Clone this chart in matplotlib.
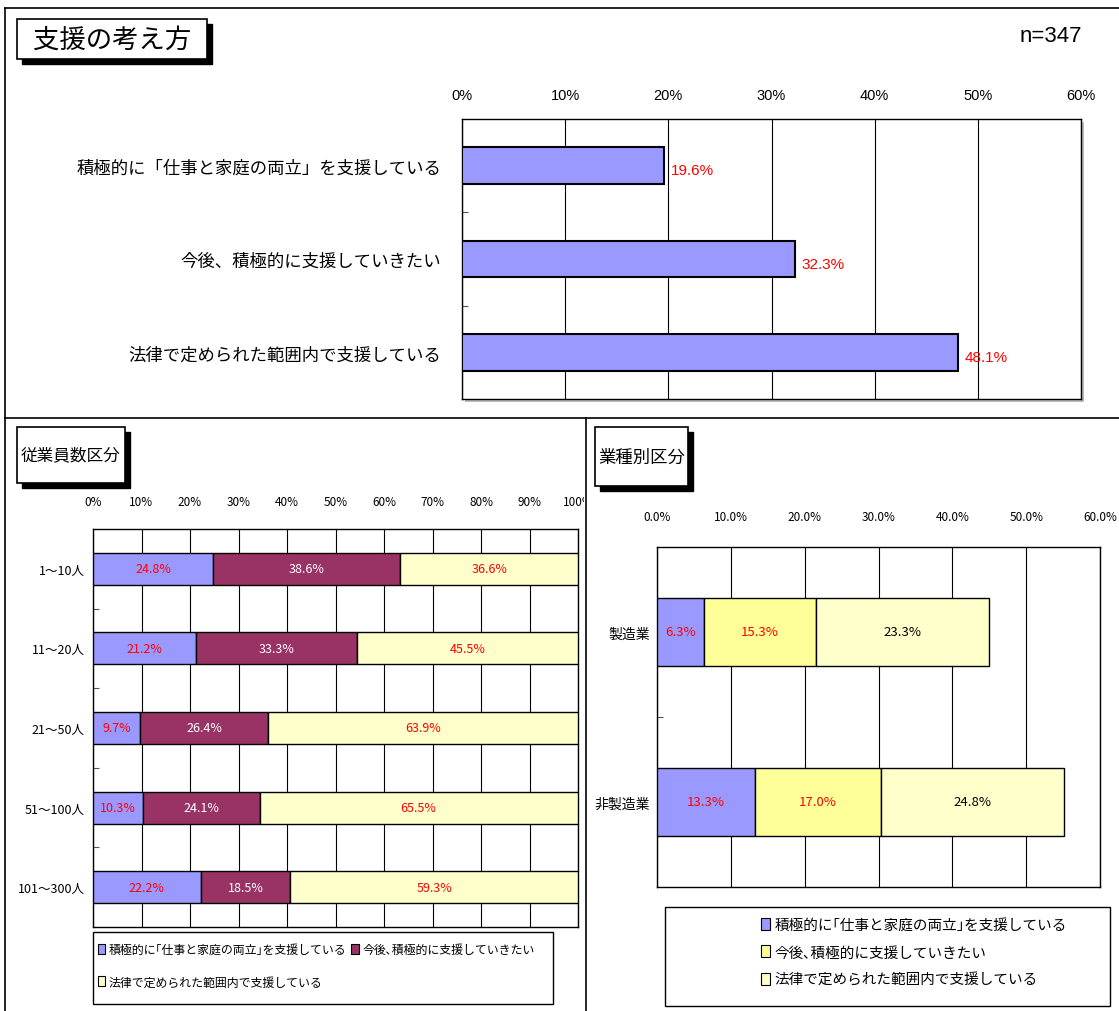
import numpy as np
import matplotlib
matplotlib.use('Agg')
import matplotlib.pyplot as plt
from matplotlib.patches import Rectangle, Patch
from matplotlib.lines import Line2D
from matplotlib.transforms import Bbox

plt.rcParams['font.family'] = ['Noto Sans CJK JP', 'DejaVu Sans']

W, H = 1119, 1012

# top panel
top_cats = ['積極的に「仕事と家庭の両立」を支援している', '今後、積極的に支援していきたい', '法律で定められた範囲内で支援している']
top_vals = [19.6, 32.3, 48.1]

# by employee count
emp_cats = ['1～10人', '11～20人', '21～50人', '51～100人', '101～300人']
emp_a = [24.8, 21.2, 9.7, 10.3, 22.2]
emp_b = [38.6, 33.3, 26.4, 24.1, 18.5]
emp_c = [36.6, 45.5, 63.9, 65.5, 59.3]

# by industry
ind_cats = ['製造業', '非製造業']
ind_a = [6.3, 13.3]
ind_b = [15.3, 17.0]
ind_c = [23.3, 24.8]

series_names = ['積極的に｢仕事と家庭の両立｣を支援している', '今後､積極的に支援していきたい', '法律で定められた範囲内で支援している']

blue = '#9999FF'
plum = '#993366'
ltyel = '#FFFFCC'
yel = '#FFFF99'


def fx(x):
  return x / W


def fy(y):
  return 1 - y / H


def px_axes(l, t, r, b):
  return fig.add_axes([fx(l), fy(b), (r - l) / W, (b - t) / H])


def title_box(l, t, r, b, text, size, sh=5):
  fig.add_artist(Rectangle((fx(l + sh), fy(b + sh)), (r - l) / W, (b - t) / H, transform=fig.transFigure,
                           facecolor='black', edgecolor='black'))
  fig.add_artist(Rectangle((fx(l), fy(b)), (r - l) / W, (b - t) / H, transform=fig.transFigure,
                           facecolor='white', edgecolor='black', lw=1.2))
  fig.text(fx((l + r) / 2), fy((t + b) / 2), text, ha='center', va='center', fontsize=size)


def style_axes(ax, ncat, xmax, step, fmt, tsize, tpad, ysize, ypad):
  ax.set_xlim(0, xmax)
  ax.set_ylim(ncat - 0.5, -0.5)
  ax.xaxis.tick_top()
  ticks = np.arange(0, xmax + step / 2, step)
  ax.set_xticks(ticks)
  ax.set_xticklabels([fmt % t for t in ticks], fontsize=tsize)
  ax.tick_params(axis='x', length=0, pad=tpad)
  ax.set_yticks(range(ncat))
  ax.set_yticks(np.arange(0.5, ncat - 1, 1), minor=True)
  ax.tick_params(axis='y', which='major', length=0, pad=ypad, labelsize=ysize)
  ax.tick_params(axis='y', which='minor', length=4, direction='in', width=0.8, color='#555555')
  ax.grid(axis='x', color='black', lw=0.8)
  ax.set_axisbelow(True)
  for s in ax.spines.values():
    s.set_color('black')
    s.set_linewidth(1.0)


fig = plt.figure(figsize=(W / 100, H / 100), dpi=100)

# frame lines
for (x0, y0, x1, y1) in [(5, 9, W, 9), (5, 9, 5, H), (5, 419, W, 419), (586, 419, 586, H)]:
  fig.add_artist(Line2D([fx(x0), fx(x1)], [fy(y0), fy(y1)], transform=fig.transFigure, color='black', lw=1.2))

# ---------- top panel ----------
title_box(17, 20, 207, 60, '支援の考え方', 19)
fig.text(fx(1082), fy(37), 'n=347', ha='right', va='center', fontsize=16, family='Liberation Sans')

ax1 = px_axes(462, 120, 1081, 400)
style_axes(ax1, 3, 60, 10, '%d%%', 10.5, 12, 12.5, 15)
for lbl in ax1.get_xticklabels():
  lbl.set_family(['Liberation Sans'])
# subtle plot-area shadow
fig.add_artist(Rectangle((fx(465), fy(403)), (1081 - 462) / W, (400 - 120) / H, transform=fig.transFigure,
                         facecolor='#BBBBBB', edgecolor='none', zorder=0))
ax1.set_facecolor('white')
y = np.arange(len(top_cats))
ax1.barh(y, top_vals, height=0.39, color=blue, edgecolor='black', lw=1.5, zorder=3)
ax1.set_yticklabels(top_cats)
for yi, v in zip(y, top_vals):
  ax1.text(v + 0.6, yi + 0.05, '%.1f%%' % v, color='red', va='center', ha='left', fontsize=11,
           family='Liberation Sans')

# ---------- employee panel ----------
title_box(17, 428, 125, 484, '従業員数区分', 12)
ax2 = px_axes(93, 530, 578, 928)
style_axes(ax2, 5, 100, 10, '%d%%', 8.5, 15, 9, 6)
clip = Bbox.from_extents(0, 0, 584, H)
for lbl in ax2.get_xticklabels():
  lbl.set_clip_box(clip)
  lbl.set_clip_on(True)
y = np.arange(len(emp_cats))
left = np.zeros(len(y))
for vals, col, tcol in [(emp_a, blue, 'red'), (emp_b, plum, 'white'), (emp_c, ltyel, 'red')]:
  ax2.barh(y, vals, left=left, height=0.4, color=col, edgecolor='black', lw=1.0, zorder=3)
  for yi, l, v in zip(y, left, vals):
    ax2.text(l + v / 2, yi, '%.1f%%' % v, color=tcol, ha='center', va='center', fontsize=9, zorder=4)
  left = left + np.array(vals)
ax2.set_yticklabels(emp_cats)

fig.add_artist(Rectangle((fx(93), fy(1005)), (553 - 93) / W, (1005 - 933) / H, transform=fig.transFigure,
                         facecolor='white', edgecolor='black', lw=1.0))
h = [Patch(facecolor=c, edgecolor='black', lw=0.8) for c in (blue, plum, ltyel)]
fig.legend([h[0], h[2], h[1]], [series_names[0], series_names[2], series_names[1]], ncol=2,
           loc='upper left', bbox_to_anchor=(fx(94), fy(940)), frameon=False, fontsize=8.6,
           handlelength=0.6, handleheight=0.9, handletextpad=0.3, columnspacing=0.4,
           borderpad=0.35, labelspacing=1.6, borderaxespad=0)

# ---------- industry panel ----------
title_box(595, 428, 688, 487, '業種別区分', 12.5)
ax3 = px_axes(657, 548, 1100, 888)
style_axes(ax3, 2, 60, 10, '%.1f%%', 8.5, 17, 10, 5)
y = np.arange(len(ind_cats))
left = np.zeros(len(y))
for vals, col, tcol in [(ind_a, blue, 'red'), (ind_b, yel, 'red'), (ind_c, ltyel, 'black')]:
  ax3.barh(y, vals, left=left, height=0.4, color=col, edgecolor='black', lw=1.0, zorder=3)
  for yi, l, v in zip(y, left, vals):
    ax3.text(l + v / 2, yi, '%.1f%%' % v, color=tcol, ha='center', va='center', fontsize=9.5, zorder=4)
  left = left + np.array(vals)
ax3.set_yticklabels(ind_cats)

fig.add_artist(Rectangle((fx(665), fy(1007)), (1110 - 665) / W, (1007 - 908) / H, transform=fig.transFigure,
                         facecolor='white', edgecolor='black', lw=1.0))
h = [Patch(facecolor=c, edgecolor='black', lw=0.8) for c in (blue, yel, ltyel)]
fig.legend(h, series_names, ncol=1, loc='upper left', bbox_to_anchor=(fx(756), fy(914)),
           frameon=False, fontsize=10.5, handlelength=0.6, handleheight=0.9, handletextpad=0.3,
           borderpad=0.35, labelspacing=0.9, borderaxespad=0)

fig.savefig('out.png', dpi=100)
